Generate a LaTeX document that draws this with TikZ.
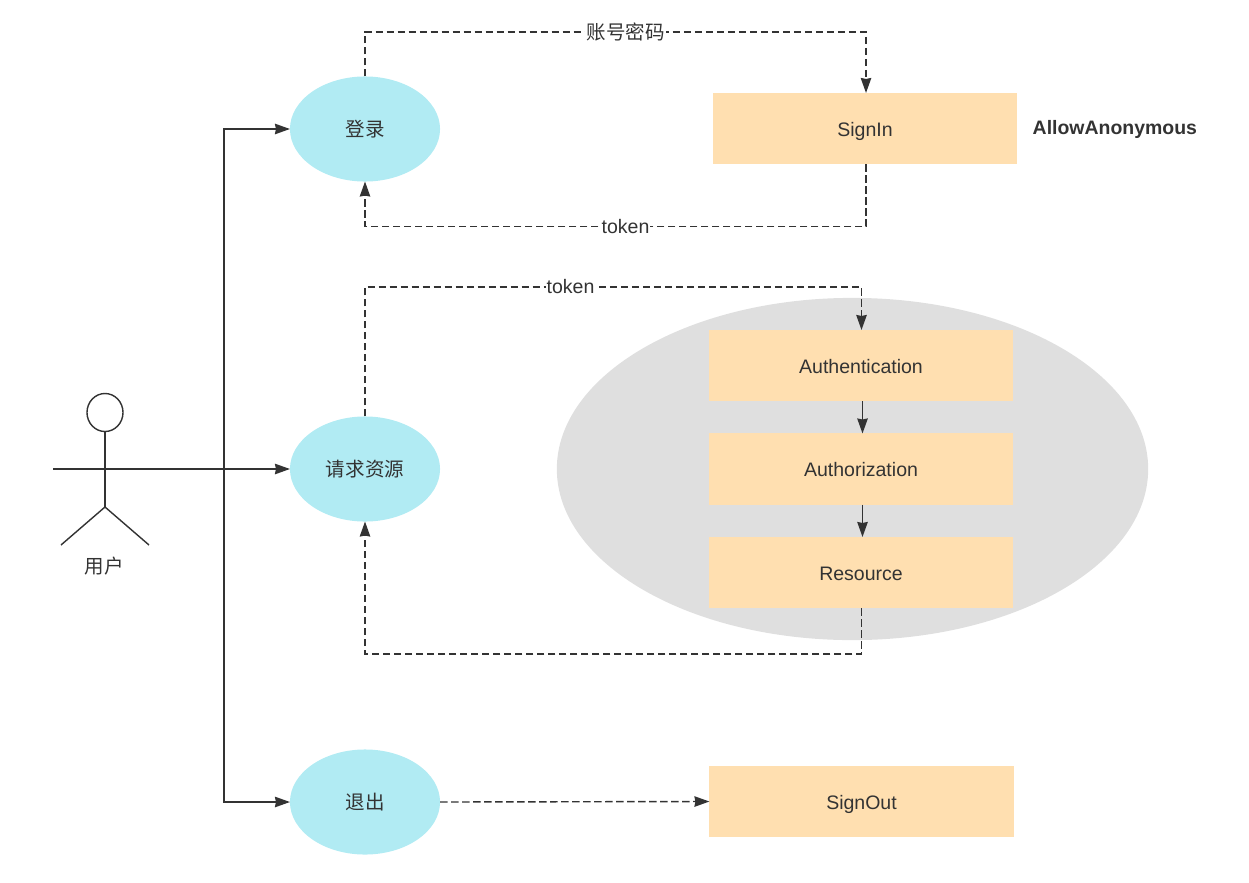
\documentclass[tikz,border=0pt]{standalone}
\usepackage{fontspec}
\setmainfont{Liberation Sans}
\newfontfamily\cjk{Noto Sans CJK SC}
\usetikzlibrary{arrows.meta,positioning,shapes.geometric}
\definecolor{inkgray}{HTML}{333333}
\definecolor{caseblue}{HTML}{B1EBF3}
\definecolor{apiorange}{HTML}{FFDFB0}
\definecolor{zonegray}{HTML}{DFDFDF}
\tikzset{
    casenode/.style={ellipse, fill=caseblue, text=inkgray, inner sep=0pt, outer sep=0pt,
        minimum width=1.5cm, minimum height=1.05cm, font=\fontsize{5.55}{7}\selectfont\cjk},
    apibox/.style={fill=apiorange, text=inkgray, inner sep=0pt, outer sep=0pt,
        minimum width=3.04cm, minimum height=0.71cm, text height=0.15cm, text depth=0pt,
        font=\fontsize{5.55}{7}\selectfont},
    linklabel/.style={fill=white, text=inkgray, inner sep=0.3pt, font=\fontsize{5.55}{7}\selectfont},
    solidarrow/.style={-{Stealth[length=0.15cm, width=0.105cm, inset=0.01cm]}, draw=inkgray, line width=0.4pt},
    dasharrow/.style={solidarrow, dash pattern=on 0.075cm off 0.035cm},
    actorline/.style={draw=inkgray, line width=0.4pt}
}

\begin{document}
\begin{tikzpicture}[x=0.01cm, y=-0.01cm]
\useasboundingbox (0,0) rectangle (1249,882);
\node[ellipse, fill=zonegray, minimum width=5.91cm, minimum height=3.42cm, inner sep=0pt] (zone) at (852.5,469) {};

\node[casenode] (login) at (365,129) {登录};
\node[casenode] (request) at (365,469) {请求资源};
\node[casenode] (logout) at (365,802) {退出};

\node[apibox] (signin) at (865,128.5) {SignIn};
\node[apibox] (authn) at (861,365.5) {Authentication};
\node[apibox] (authz) at (861,469) {Authorization};
\node[apibox] (resource) at (861,572.5) {Resource};
\node[apibox] (signout) at (861.5,801.5) {SignOut};
\node[anchor=base west, text=inkgray, inner sep=0pt, font=\fontsize{5.53}{7}\selectfont\bfseries] (anon) at (1032,135) {AllowAnonymous};

% actor
\node[ellipse, draw=inkgray, line width=0.4pt, minimum width=0.36cm, minimum height=0.38cm, inner sep=0pt] (head) at (105,412.5) {};
\coordinate (hip) at (105,507);
\coordinate (handl) at (53,469);
\coordinate (handr) at (157,469);
\coordinate (footl) at (61,545);
\coordinate (footr) at (149,545);
\coordinate (trunk) at (224,469);
\draw[actorline] (head.south) -- (hip);
\draw[actorline] (handl) -- (handr);
\draw[actorline] (footl) -- (hip) -- (footr);
\node[text=inkgray, inner sep=0pt, font=\fontsize{5.55}{7}\selectfont\cjk] (user) at (104,566) {用户};

\draw[solidarrow] (handr) -- (trunk) |- (login.west);
\draw[solidarrow] (handr) -- (trunk) -- (request.west);
\draw[solidarrow] (handr) -- (trunk) |- (logout.west);

\coordinate (logintop) at (365,32);
\coordinate (loginlow) at (866,226.5);
\coordinate (requesttop) at (365,287);
\coordinate (requestlow) at (861.5,654);
\coordinate (stackline) at (862.5,469);
\draw[dasharrow] (login.north) -- (logintop) -| node[linklabel, pos=0.26, font=\fontsize{5.55}{7}\selectfont\cjk] (pwd) {账号密码} (signin.north -| loginlow);
\draw[dasharrow] (signin.south -| loginlow) -- (loginlow) -| node[linklabel, pos=0.24] (tokenback) {token} (login.south);
\draw[dasharrow] (request.north) -- (requesttop) -| node[linklabel, pos=0.207] (tokensend) {token} (authn.north -| requestlow);
\draw[dasharrow] (resource.south -| requestlow) -- (requestlow) -| (request.south);
\draw[dasharrow] (logout.east) -- (signout.west);

\draw[solidarrow] (authn.south -| stackline) -- (authz.north -| stackline);
\draw[solidarrow] (authz.south -| stackline) -- (resource.north -| stackline);
\end{tikzpicture}
\end{document}
